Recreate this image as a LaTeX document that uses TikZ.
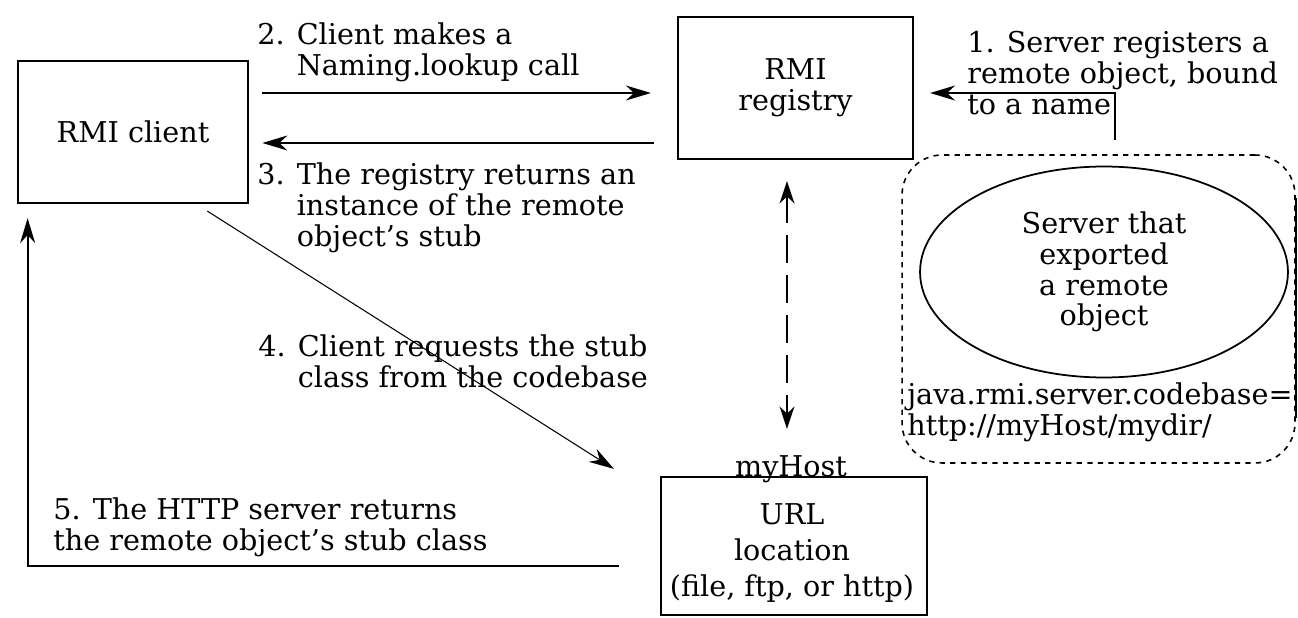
\documentclass[tikz,border=0pt]{standalone}
\usepackage{fontspec}
\setmainfont{DejaVu Serif}
\usetikzlibrary{arrows.meta,shapes.geometric}
\tikzset{block/.style={draw,line width=1.3pt,inner sep=0pt,align=center}}
\tikzset{flow/.style={-{Stealth[length=0.5cm,width=0.3cm]},line width=1.1pt}}
\tikzset{twoway/.style={{Stealth[length=0.45cm,width=0.3cm]}-{Stealth[length=0.45cm,width=0.3cm]},line width=1.1pt,dash pattern=on 0.55cm off 0.25cm}}
\tikzset{lbl/.style={align=left,inner sep=0pt,anchor=west}}

\begin{document}
\begin{tikzpicture}[x=0.02cm,y=-0.02cm,font=\fontsize{16.3}{17.5}\selectfont]
    \useasboundingbox (0,0) rectangle (1298,618);
    % the three hosts
    \node[block,minimum width=4.61cm,minimum height=2.84cm] (client) at (133,132) {RMI client};
    \node[block,minimum width=4.7cm,minimum height=2.84cm] (registry) at (795.5,88) {RMI\\registry};
    \node[block,minimum width=5.32cm,minimum height=2.76cm] (url) at (794,546) {};
    \node[align=center,inner sep=0pt] (urltext) at (792,553) {URL\\[3pt]location\\[3pt](file, ftp, or http)};
    \node (hostlbl) at (791,469) {myHost};
    % server side
    \node[draw,dashed,rounded corners=0.8cm,line width=0.9pt,minimum width=7.86cm,minimum height=6.16cm] (hostbox) at (1098.5,309) {};
    \draw[line width=1.3pt] ([yshift=2.22cm]hostbox.east) -- ([yshift=-2.18cm]hostbox.east);
    \node[draw,ellipse,line width=1pt,inner sep=0pt,align=center,minimum width=7.36cm,minimum height=4.22cm] (server) at (1104,272) {Server that\\exported\\a remote\\object};
    \node[lbl] (codebase) at (907,412) {java.rmi.server.codebase=\\http://myHost/mydir/};
    \coordinate (bind) at (1115,140);
    % messages
    \draw[flow,shorten >=0.32cm] (bind) |- (registry.east |- 0,93);
    \node[lbl] (msg1) at (967,73) {1. Server registers a\\remote object, bound\\to a name};
    \draw[flow,shorten <=0.26cm,shorten >=0.52cm] (client.east |- 0,93) -- (registry.west |- 0,93);
    \node[lbl] (msg2) at (257,52) {2. Client makes a\\\hphantom{2. }Naming.lookup call};
    \draw[flow,shorten <=0.46cm,shorten >=0.26cm] (registry.west |- 0,143) -- (client.east |- 0,143);
    \node[lbl] (msg3) at (257,208) {3. The registry returns an\\\hphantom{3. }instance of the remote\\\hphantom{3. }object's stub};
    \draw[flow,line width=0.6pt] ([xshift=-0.84cm,yshift=-0.14cm]client.south east) -- ([xshift=-0.92cm,yshift=0.14cm]url.north west);
    \node[lbl] (msg4) at (258,361) {4. Client requests the stub\\\hphantom{4. }class from the codebase};
    \draw[flow] ([xshift=-0.82cm,yshift=-0.4cm]url.west) -| ([xshift=0.22cm,yshift=-0.28cm]client.south west);
    \node[lbl] (msg5) at (53,527) {5. The HTTP server returns\\the remote object's stub class};
    \draw[twoway,shorten <=0.42cm,shorten >=0.94cm] (registry.south -| 787,0) -- (url.north -| 787,0);
\end{tikzpicture}
\end{document}
